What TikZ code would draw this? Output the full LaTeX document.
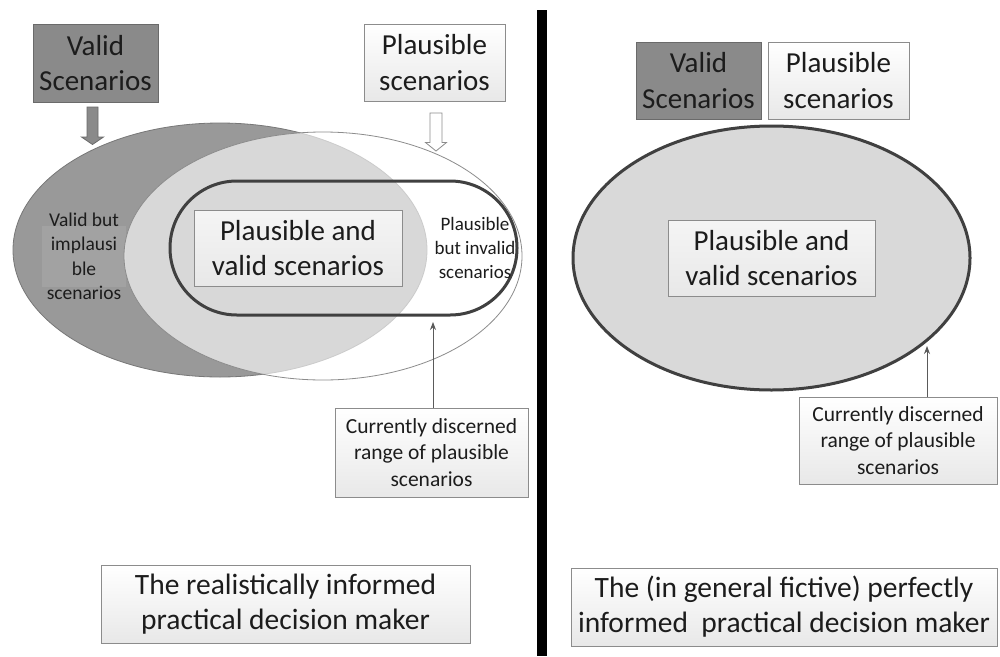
\documentclass[tikz,border=0pt]{standalone}
\usepackage{fontspec}
\setmainfont{Carlito}
\usetikzlibrary{arrows.meta,shapes.geometric,shadows}

\definecolor{txt}{HTML}{1C1C1C}
\definecolor{validgray}{HTML}{999999}
\definecolor{validedge}{HTML}{777777}
\definecolor{boxdark}{HTML}{8A8A8A}
\definecolor{boxdarkedge}{HTML}{6A6A6A}
\definecolor{boxedge}{HTML}{8C8C8C}
\definecolor{ringedge}{HTML}{404040}
\definecolor{setlight}{HTML}{D9D9D9}
\definecolor{labelbg}{HTML}{A2A2A2}
\definecolor{callout}{HTML}{5A5A5A}

\newcommand{\bigtext}{\fontsize{29}{35.5}\selectfont}
\newcommand{\smalltext}{\fontsize{19.5}{24.5}\selectfont}
\newcommand{\calltext}{\fontsize{21.5}{26.5}\selectfont}

\tikzset{
  softshadow/.style={drop shadow={shadow xshift=1.2pt, shadow yshift=-1.2pt, opacity=.3, fill=gray}},
  panel/.style={rectangle, inner sep=0pt, align=center, text=txt, line width=0.9pt},
  darkpanel/.style={panel, draw=boxdarkedge, fill=boxdark, softshadow},
  lightpanel/.style={panel, draw=boxedge, top color=white, bottom color=black!9, softshadow},
  innerpanel/.style={panel, draw=boxedge, top color=black!4, bottom color=black!9},
  calloutbox/.style={lightpanel, font=\calltext},
  blockarrow/.style={line width=0.8pt, line join=miter},
  pointer/.style={draw=callout, line width=0.8pt, -{Stealth[length=8pt,width=6pt]}},
}

\begin{document}
\begin{tikzpicture}[x=1pt,y=-1pt]
\useasboundingbox (0,0) rectangle (1000,656);
\fill[white] (0,0) rectangle (1000,656);

%% ---------------- left half: realistic decision maker ----------------
% set of valid scenarios and set of plausible scenarios
\node[ellipse, draw=validedge, fill=validgray, line width=0.8pt,
      minimum width=414pt, minimum height=254pt, inner sep=0pt] (validset) at (220,250) {};
\fill[labelbg] (42,226) rectangle (126,287);
\node[ellipse, draw=boxedge, fill=white, fill opacity=0.62, line width=0.8pt,
      minimum width=398pt, minimum height=248pt, inner sep=0pt] (plausset) at (323,256) {};

% currently discerned range (rounded ring)
\node[rectangle, rounded corners=66.9pt, draw=ringedge, line width=3pt,
      minimum width=347pt, minimum height=134pt, inner sep=0pt] (ring) at (343.5,248) {};

% region labels
\node[panel, font=\smalltext] (implaus) at (84,256.5)
  {Valid but\\implausi\\ble\\scenarios};
\node[panel, font=\fontsize{19}{24}\selectfont] (invalid) at (475,248)
  {Plausible\\but invalid\\scenarios};
\node[innerpanel, font=\bigtext, minimum width=208pt, minimum height=76pt] (bothL) at (298,248)
  {Plausible and\\valid scenarios};

% legend boxes
\node[darkpanel, font=\bigtext, minimum width=125pt, minimum height=78pt] (validL) at (95.5,63)
  {Valid\\Scenarios};
\node[lightpanel, font=\bigtext, minimum width=141pt, minimum height=77pt] (plausL) at (434.5,62.5)
  {Plausible\\scenarios};

% block arrows from the legend boxes into the sets
\filldraw[blockarrow, fill=boxdark, draw=boxdarkedge]
  (87,107) -- (98,107) -- (98,137) -- (103.5,137) -- (92.5,144.5)
  -- (81.5,137) -- (87,137) -- cycle;
\filldraw[blockarrow, fill=white, draw=boxedge]
  (430,113) -- (442,113) -- (442,142.5) -- (446.5,142.5) -- (436,151)
  -- (425.5,142.5) -- (430,142.5) -- cycle;

% callout for the ring
\node[calloutbox, minimum width=193pt, minimum height=89pt] (curL) at (431.5,452.5)
  {Currently discerned\\range of plausible\\scenarios};
\coordinate (tipL) at (433,322);
\draw[pointer] (tipL |- curL.north) -- (tipL);

% caption
\node[lightpanel, font=\fontsize{29.5}{35}\selectfont, minimum width=369pt, minimum height=78pt] (capL) at (285.5,604)
  {The realistically informed\\practical decision maker};

%% ---------------- separator ----------------
\fill[black] (537,10) rectangle (547,656);

%% ---------------- right half: perfectly informed decision maker ----------------
\node[ellipse, draw=ringedge, fill=setlight, line width=3pt,
      minimum width=397pt, minimum height=264pt, inner sep=0pt] (bothset) at (771.5,258) {};
\node[innerpanel, font=\bigtext, minimum width=207pt, minimum height=76pt] (bothR) at (771.5,258)
  {Plausible and\\valid scenarios};

\node[darkpanel, font=\bigtext, minimum width=125pt, minimum height=77pt] (validR) at (698.5,80.5)
  {Valid\\Scenarios};
\node[lightpanel, font=\bigtext, minimum width=141pt, minimum height=77pt] (plausR) at (838.5,80.5)
  {Plausible\\scenarios};

\node[calloutbox, minimum width=198pt, minimum height=87pt] (curR) at (898,440.5)
  {Currently discerned\\range of plausible\\scenarios};
\coordinate (tipR) at (927,346);
\draw[pointer] (tipR |- curR.north) -- (tipR);

\node[lightpanel, font=\fontsize{29.5}{35}\selectfont, minimum width=426pt, minimum height=78pt] (capR) at (784,607)
  {The (in general fictive) perfectly\\informed\ \ practical decision maker};
\end{tikzpicture}
\end{document}
